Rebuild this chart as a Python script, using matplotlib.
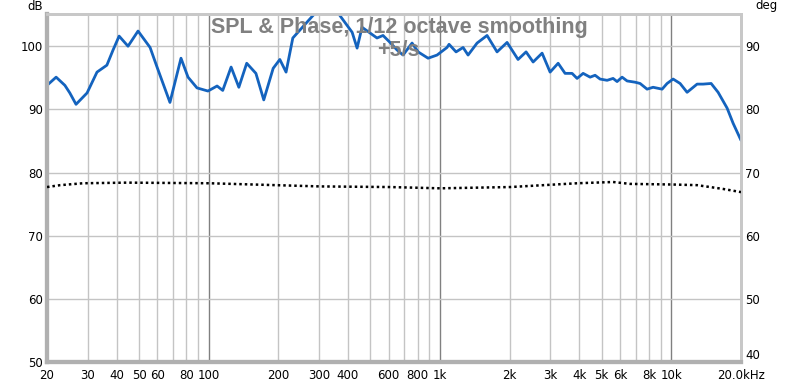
import matplotlib
matplotlib.use("Agg")
import matplotlib.pyplot as plt
from matplotlib.ticker import FixedLocator, NullLocator

# SPL curve (Hz, dB)
spl_freq = [20, 21.9, 23.9, 25.1, 26.7, 29.8, 32.9, 36.3, 38.6, 41.0, 44.8,
            49.5, 55.8, 59.8, 68.0, 75.9, 81.4, 89.0, 99.3, 108.7, 115, 125,
            135, 146, 160, 173, 190, 203, 216, 231, 243, 283, 303, 327, 350,
            370, 417, 438, 460, 498, 534, 567, 608, 652, 692, 757, 804, 888,
            971, 1072, 1094, 1173, 1258, 1322, 1446, 1597, 1764, 1949, 2174,
            2355, 2526, 2762, 2991, 3240, 3472, 3722, 3913, 4155, 4454, 4680,
            4918, 5276, 5598, 5826, 6124, 6437, 6971, 7326, 7854, 8337, 9120,
            9585, 10176, 10908, 11695, 12920, 13716, 14857, 15926, 17418,
            18490, 20000]
spl_db = [93.8, 95.1, 93.8, 92.6, 90.8, 92.6, 95.9, 97.0, 99.4, 101.6, 100.0,
          102.4, 99.8, 96.7, 91.1, 98.1, 95.1, 93.4, 92.9, 93.7, 93.0, 96.7,
          93.5, 97.3, 95.7, 91.5, 96.5, 97.9, 95.9, 101.3, 102.2, 104.9, 106.0,
          105.8, 106.2, 104.8, 102.2, 99.7, 103.0, 102.1, 101.3, 101.7, 100.6,
          99.4, 98.6, 100.5, 99.1, 98.1, 98.6, 99.8, 100.3, 99.1, 99.8, 98.6,
          100.5, 101.7, 99.1, 100.6, 97.9, 99.1, 97.5, 98.9, 95.9, 97.3, 95.7,
          95.7, 94.9, 95.7, 95.1, 95.4, 94.8, 94.6, 94.9, 94.4, 95.1, 94.5,
          94.3, 94.1, 93.2, 93.5, 93.2, 94.1, 94.8, 94.1, 92.7, 94.0, 94.0,
          94.1, 92.7, 90.2, 87.8, 85.1]

# phase curve (Hz, deg)
ph_freq = [20, 22.8, 28.6, 44.4, 101, 303, 608, 1000, 2008, 3913, 5598,
           6630, 10176, 12920, 16738, 20000]
ph_deg = [67.7, 68.0, 68.3, 68.4, 68.3, 67.8, 67.7, 67.5, 67.7, 68.3, 68.5,
          68.2, 68.1, 68.0, 67.4, 66.9]

grid_freqs = [20, 30, 40, 50, 60, 70, 80, 90, 100, 200, 300, 400, 500, 600,
              700, 800, 900, 1000, 2000, 3000, 4000, 5000, 6000, 7000, 8000,
              9000, 10000, 20000]
label_freqs = [20, 30, 40, 50, 60, 80, 100, 200, 300, 400, 600, 800, 1000,
               2000, 3000, 4000, 5000, 6000, 8000, 10000, 20000]
label_texts = ["20", "30", "40", "50", "60", "80", "100", "200", "300", "400",
               "600", "800", "1k", "2k", "3k", "4k", "5k", "6k", "8k", "10k",
               "20.0kHz"]
db_ticks = [50, 60, 70, 80, 90, 100]
deg_ticks = [40, 50, 60, 70, 80, 90]

W, H = 800, 382
fig = plt.figure(figsize=(W / 100, H / 100), dpi=100)
ax = fig.add_axes([47 / W, 20 / H, 694 / W, 348 / H])
ax.set_xscale("log")
ax.set_xlim(20, 20000)
ax.set_ylim(50, 105.1)

for f in grid_freqs:
    decade = f in (100, 1000, 10000)
    ax.axvline(f, color="#808080" if decade else "#c4c4c4", lw=1, zorder=0)
for d in db_ticks[1:]:
    ax.axhline(d, color="#c4c4c4", lw=1, zorder=0)

ax.plot(spl_freq, spl_db, color="#1463be", lw=2, zorder=3,
        solid_capstyle="round", solid_joinstyle="round")

ax.xaxis.set_major_locator(FixedLocator(label_freqs))
ax.xaxis.set_minor_locator(NullLocator())
ax.set_xticklabels(label_texts)
ax.set_yticks(db_ticks)
ax.tick_params(length=0, labelsize=8.5, pad=3, colors="#000000")
ax.tick_params(axis="x", pad=5)

ax2 = ax.twinx()
ax2.set_ylim(40, 95.1)
ax2.set_yticks(deg_ticks)
ax2.tick_params(length=0, labelsize=8.5, pad=3)
ax2.plot(ph_freq, ph_deg, color="black", lw=1.8, ls=(0, (1, 1.2)), zorder=3)
# nudge the bottom "40" up so it clears the "20.0kHz" label
ax2.get_yticklabels()[0].set_verticalalignment("bottom")

for a in (ax, ax2):
    for side in ("top", "right"):
        a.spines[side].set_color("#c8c8c8")
        a.spines[side].set_linewidth(2)
    for side in ("left", "bottom"):
        a.spines[side].set_color("#b0b0b0")
        a.spines[side].set_linewidth(3)

fig.text(35 / W, 1 - 6 / H, "dB", ha="center", va="center", fontsize=8.5)
fig.text(767 / W, 1 - 6 / H, "deg", ha="center", va="center", fontsize=8.5)

title_font = dict(family="Liberation Sans", weight="bold", fontsize=15.5,
                  color="#808080", ha="center", va="center", zorder=5)
fig.text(399 / W, 1 - 27 / H, "SPL & Phase, 1/12 octave smoothing", **title_font)
fig.text(398 / W, 1 - 50 / H, "+5/s", **title_font)

fig.savefig("out.png", dpi=100)
